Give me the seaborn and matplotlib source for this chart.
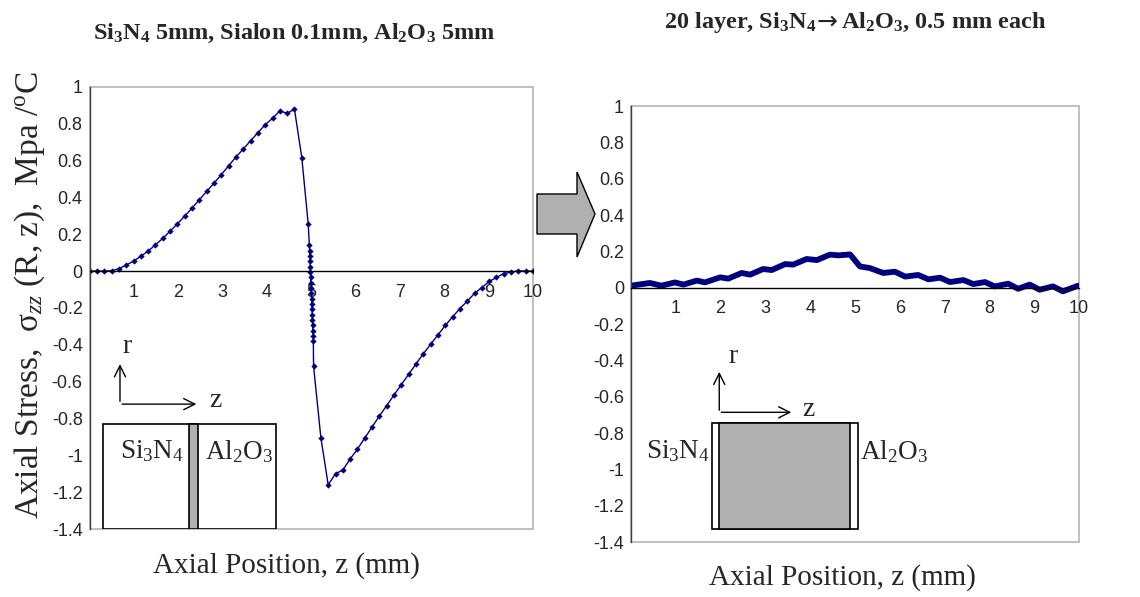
import numpy as np
import pandas as pd
import matplotlib
matplotlib.use("Agg")
import matplotlib.pyplot as plt
import seaborn as sns
from matplotlib.patches import Rectangle, Polygon

# ---- data -------------------------------------------------------------
# single sialon interlayer: Si3N4 5 mm | Sialon 0.1 mm | Al2O3 5 mm
z_si3n4 = [0.0, 0.165, 0.33, 0.495, 0.66, 0.825, 0.99, 1.155, 1.32, 1.485,
           1.65, 1.815, 1.98, 2.145, 2.31, 2.475, 2.64, 2.805, 2.97, 3.135,
           3.3, 3.465, 3.63, 3.795, 3.96, 4.125, 4.29, 4.455, 4.62, 4.785, 4.93]
s_si3n4 = [0.0, 0.0, 0.0, 0.002, 0.013, 0.033, 0.054, 0.081, 0.109, 0.143,
           0.178, 0.217, 0.257, 0.299, 0.342, 0.388, 0.433, 0.478, 0.524, 0.572,
           0.620, 0.663, 0.708, 0.752, 0.795, 0.830, 0.870, 0.857, 0.879, 0.616, 0.255]
z_sialon = [4.955, 4.96, 4.965, 4.97, 4.975, 4.98, 4.985, 4.99, 4.995, 5.0,
            5.005, 5.01, 5.015, 5.02, 5.025, 5.03, 5.035, 5.04, 5.045]
s_sialon = [0.14, 0.111, 0.082, 0.053, 0.024, -0.005, -0.034, -0.063, -0.092, -0.121,
            -0.15, -0.179, -0.208, -0.237, -0.266, -0.295, -0.324, -0.353, -0.38]
z_al2o3 = [5.05, 5.215, 5.38, 5.545, 5.71, 5.875, 6.04, 6.205, 6.37, 6.535,
           6.7, 6.865, 7.03, 7.195, 7.36, 7.525, 7.69, 7.855, 8.02, 8.185,
           8.35, 8.515, 8.68, 8.845, 9.01, 9.175, 9.34, 9.505, 9.67, 9.835, 10.0]
s_al2o3 = [-0.516, -0.904, -1.16, -1.10, -1.08, -1.02, -0.966, -0.906, -0.846, -0.786,
           -0.730, -0.672, -0.616, -0.560, -0.504, -0.449, -0.397, -0.346, -0.295, -0.248,
           -0.203, -0.163, -0.121, -0.089, -0.056, -0.034, -0.013, -0.005, 0.002, 0.0, 0.0]

# 20-layer graded joint, 0.5 mm per layer
z_graded = [0.0, 0.42, 0.68, 0.98, 1.17, 1.47, 1.65, 1.99, 2.17, 2.47,
            2.66, 2.95, 3.14, 3.44, 3.62, 3.92, 4.15, 4.44, 4.63, 4.89,
            5.11, 5.33, 5.63, 5.89, 6.12, 6.41, 6.64, 6.9, 7.12, 7.42,
            7.64, 7.9, 8.12, 8.42, 8.64, 8.9, 9.12, 9.42, 9.64, 9.98]
s_graded = [0.011, 0.026, 0.011, 0.029, 0.017, 0.039, 0.029, 0.057, 0.050, 0.081,
            0.072, 0.103, 0.097, 0.130, 0.127, 0.158, 0.152, 0.182, 0.178, 0.183,
            0.117, 0.108, 0.081, 0.088, 0.061, 0.070, 0.046, 0.055, 0.031, 0.042,
            0.020, 0.031, 0.007, 0.022, -0.006, 0.017, -0.011, 0.007, -0.020, 0.011]

x_ticks = [1, 2, 3, 4, 5, 6, 7, 8, 9, 10]
y_ticks = [1, 0.8, 0.6, 0.4, 0.2, 0, -0.2, -0.4, -0.6, -0.8, -1, -1.2, -1.4]
y_ticklabels = ["1", "0.8", "0.6", "0.4", "0.2", "0", "-0.2", "-0.4", "-0.6",
                "-0.8", "-1", "-1.2", "-1.4"]

title_left = "Si$_\\mathbf{3}$N$_\\mathbf{4}$ 5mm, Sialon 0.1mm, Al$_\\mathbf{2}$O$_\\mathbf{3}$ 5mm"
title_right_a = "20 layer, Si$_\\mathbf{3}$N$_\\mathbf{4}$"
title_right_b = "Al$_\\mathbf{2}$O$_\\mathbf{3}$, 0.5 mm each"
ylabel = "Axial Stress,  \u03c3$_{zz}$ (R, z),  Mpa /$^{\\mathrm{o}}$C"
xlabel = "Axial Position, z (mm)"

# ---- style ------------------------------------------------------------
sns.set_style("white")
plt.rcParams["font.family"] = ["Liberation Sans", "DejaVu Sans"]
plt.rcParams["mathtext.fontset"] = "custom"
plt.rcParams["mathtext.rm"] = "Liberation Serif"
plt.rcParams["mathtext.it"] = "Liberation Serif:italic"
plt.rcParams["mathtext.bf"] = "Liberation Serif:bold"

SERIF = ["Liberation Serif", "DejaVu Serif"]
NAVY = "#000080"
BORDER = "#b4b4b4"

fig = plt.figure(figsize=(11.4, 5.97), dpi=100)
ax1 = fig.add_axes([0.0786, 0.1139, 0.389, 0.7404])
ax2 = fig.add_axes([0.5535, 0.0921, 0.393, 0.7303])

left_df = pd.DataFrame({"z": z_si3n4 + z_sialon + z_al2o3,
                        "stress": s_si3n4 + s_sialon + s_al2o3})
right_df = pd.DataFrame({"z": z_graded, "stress": s_graded})

sns.lineplot(data=left_df, x="z", y="stress", ax=ax1, sort=False, estimator=None,
             color=NAVY, lw=1.0, marker="D", markersize=3.2,
             markeredgewidth=0, markerfacecolor=NAVY)
sns.lineplot(data=right_df, x="z", y="stress", ax=ax2, sort=False, estimator=None,
             color=NAVY, lw=4.2, solid_joinstyle="round", solid_capstyle="round")


def style_axes(ax):
    ax.set_xlim(0, 10)
    ax.set_ylim(-1.4, 1)
    ax.set_xlabel("")
    ax.set_ylabel("")
    ax.set_yticks(y_ticks)
    ax.set_yticklabels(y_ticklabels)
    ax.set_xticks(x_ticks)
    ax.set_xticklabels([str(t) for t in x_ticks])
    ax.patch.set_edgecolor(BORDER)
    ax.patch.set_linewidth(1.2)
    for side in ("top", "right"):
        ax.spines[side].set_visible(False)
    ax.spines["left"].set_color("#404040")
    ax.spines["left"].set_linewidth(1.0)
    ax.spines["bottom"].set_position(("data", 0))
    ax.spines["bottom"].set_color("black")
    ax.spines["bottom"].set_linewidth(1.0)
    ax.tick_params(axis="y", direction="out", length=4, width=1, color="#404040",
                   pad=1, labelsize=13)
    ax.tick_params(axis="x", direction="out", length=4, width=1, color="#404040",
                   pad=5, labelsize=13)
    ax.grid(False)


style_axes(ax1)
style_axes(ax2)

# titles and axis labels
fig.text(0.258, 0.944, title_left, family=SERIF, fontweight="bold", fontsize=17.5,
         ha="center", va="center")
fig.text(0.716, 0.962, title_right_a, family=SERIF, fontweight="bold", fontsize=17.5,
         ha="right", va="center")
fig.text(0.7165, 0.964, "\u2192", family=["DejaVu Sans"], fontsize=18,
         ha="left", va="center")
fig.text(0.7375, 0.962, title_right_b, family=SERIF, fontweight="bold", fontsize=17.5,
         ha="left", va="center")
fig.text(0.026, 0.506, ylabel, family=SERIF, fontsize=24, rotation=90,
         ha="center", va="center")
fig.text(0.251, 0.053, xlabel, family=SERIF, fontsize=21, ha="center", va="center")
fig.text(0.739, 0.033, xlabel, family=SERIF, fontsize=21, ha="center", va="center")

# sketch of the joint: single interlayer
arrow_kw = dict(arrowstyle="->", lw=1.0, color="black", mutation_scale=20)
ax1.add_patch(Rectangle((0.31, -1.398), 3.9, 0.57, facecolor="white",
                        edgecolor="black", lw=1.2, zorder=3))
ax1.add_patch(Rectangle((2.25, -1.398), 0.2, 0.57, facecolor="#b0b0b0",
                        edgecolor="black", lw=1.2, zorder=4))
ax1.text(1.40, -0.98, "Si$_3$N$_4$", family=SERIF, fontsize=19.5, ha="center",
         va="center", zorder=5)
ax1.text(3.38, -0.98, "Al$_2$O$_3$", family=SERIF, fontsize=19.5, ha="center",
         va="center", zorder=5)
ax1.annotate("", xy=(0.685, -0.49), xytext=(0.685, -0.722), arrowprops=arrow_kw)
ax1.annotate("", xy=(2.47, -0.722), xytext=(0.67, -0.722), arrowprops=arrow_kw)
ax1.text(0.84, -0.41, "r", family=SERIF, fontsize=20, ha="center", va="center")
ax1.text(2.84, -0.70, "z", family=SERIF, fontsize=20, ha="center", va="center")

# sketch of the joint: graded stack
ax2.add_patch(Rectangle((1.80, -1.326), 3.27, 0.581, facecolor="white",
                        edgecolor="black", lw=1.2, zorder=3))
ax2.add_patch(Rectangle((1.97, -1.326), 2.92, 0.581, facecolor="#b0b0b0",
                        edgecolor="black", lw=1.2, zorder=4))
ax2.text(1.76, -0.90, "Si$_3$N$_4$", family=SERIF, fontsize=19.5, ha="right",
         va="center", zorder=5)
ax2.text(5.11, -0.90, "Al$_2$O$_3$", family=SERIF, fontsize=19.5, ha="left",
         va="center", zorder=5)
ax2.annotate("", xy=(1.97, -0.448), xytext=(1.97, -0.69), arrowprops=arrow_kw)
ax2.annotate("", xy=(3.64, -0.686), xytext=(1.955, -0.686), arrowprops=arrow_kw)
ax2.text(2.28, -0.38, "r", family=SERIF, fontsize=20, ha="center", va="center")
ax2.text(3.97, -0.67, "z", family=SERIF, fontsize=20, ha="center", va="center")

# block arrow between the two panels
W, H = 1140.0, 597.0
pts = [(537, 194), (577, 194), (577, 172), (595, 214), (577, 257), (577, 234), (537, 234)]
fig.add_artist(Polygon([(px / W, 1 - py / H) for px, py in pts], closed=True,
                       facecolor="#b0b0b0", edgecolor="black", lw=1.0,
                       transform=fig.transFigure))

fig.savefig("out.png", dpi=100)
